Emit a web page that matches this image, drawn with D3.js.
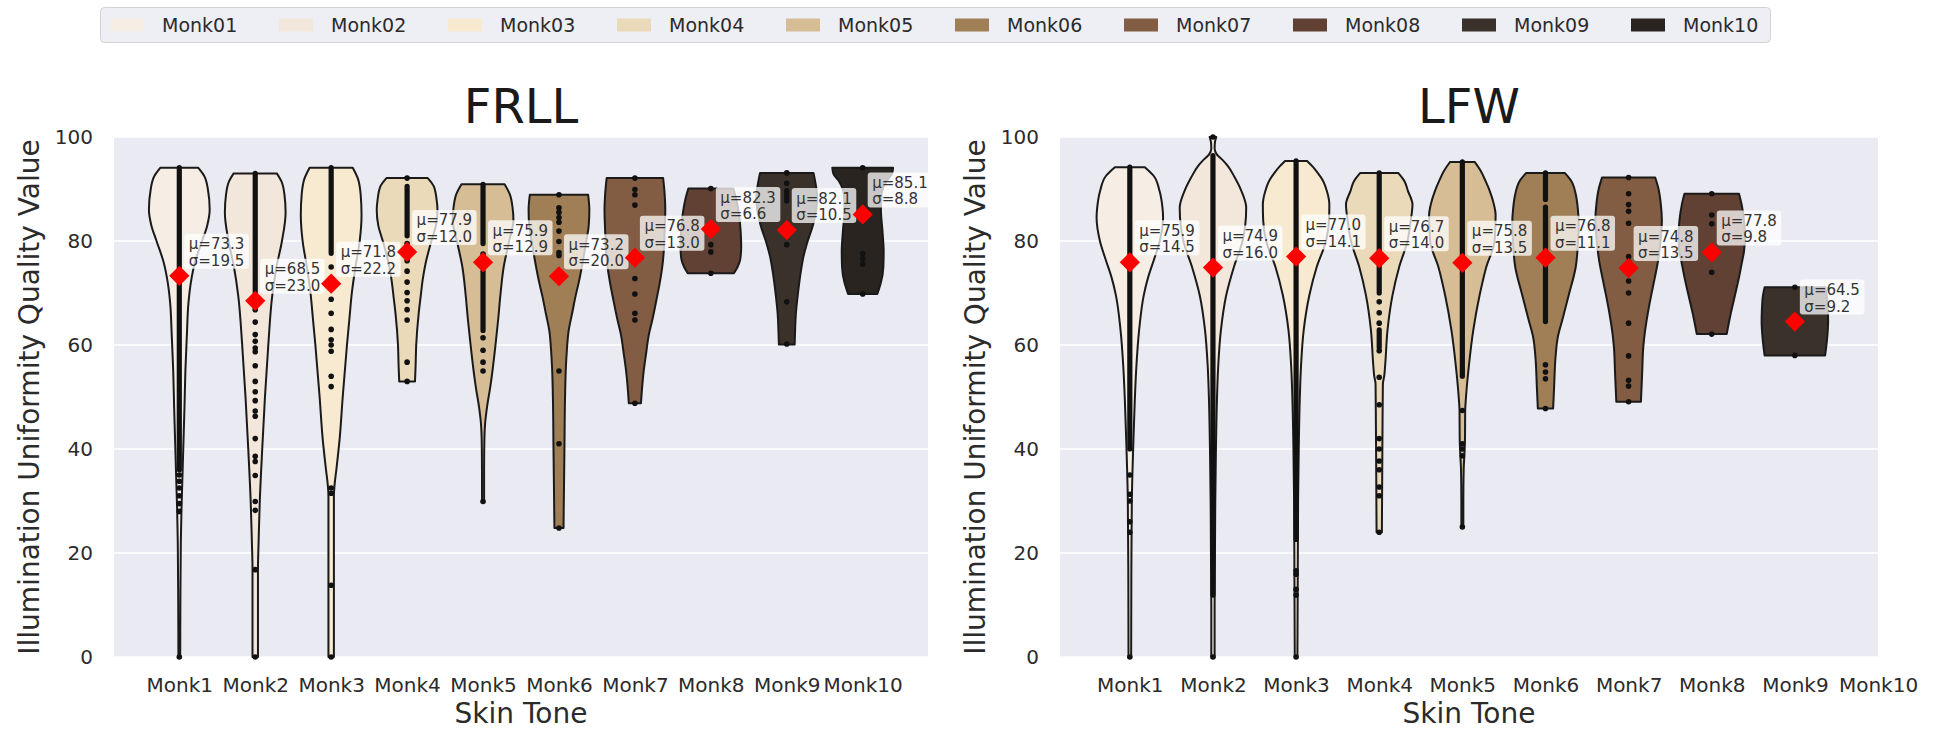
<!DOCTYPE html>
<html>
<head>
<meta charset="utf-8">
<script src="https://cdn.jsdelivr.net/npm/d3@7"></script>
<style>
  body { margin: 0; background: #ffffff; }
  svg { display: block; font-family: "DejaVu Sans", "Noto Sans", sans-serif; }
</style>
</head>
<body>
<svg id="chart" width="1939" height="730"></svg>
<script>
// ---------- data ----------
const categories = ["Monk1", "Monk2", "Monk3", "Monk4", "Monk5", "Monk6", "Monk7", "Monk8", "Monk9", "Monk10"];
const legendLabels = ["Monk01", "Monk02", "Monk03", "Monk04", "Monk05", "Monk06", "Monk07", "Monk08", "Monk09", "Monk10"];
const toneColors = ["#f6ede4", "#f3e7db", "#f7ead0", "#eadaba", "#d7bd96", "#a07e56", "#825c43", "#604134", "#3a312a", "#292420"];
const yTicks = [0, 20, 40, 60, 80, 100];

// FRLL summary statistics
const frllMean = [73.3, 68.5, 71.8, 77.9, 75.9, 73.2, 76.8, 82.3, 82.1, 85.1];
const frllStd  = [19.5, 23.0, 22.2, 12.0, 12.9, 20.0, 13.0, 6.6, 10.5, 8.8];

// LFW summary statistics (no Monk10 samples)
const lfwMean = [75.9, 74.9, 77.0, 76.7, 75.8, 76.8, 74.8, 77.8, 64.5, null];
const lfwStd  = [14.5, 16.0, 14.1, 14.0, 13.5, 11.1, 13.5, 9.8, 9.2, null];

// violin density profiles: [quality value, relative density (1 = widest)]
const frllDensity = [
  [[94.1,0.62],[92.5,0.82],[90,0.94],[86,1.0],[83,0.92],[80,0.75],[76,0.52],[72,0.38],[68,0.3],[62,0.25],[55,0.2],[48,0.17],[40,0.13],[34,0.1],[28,0.07],[22,0.05],[10,0.035],[0,0.03]],
  [[93,0.71],[91.5,0.86],[89,0.96],[85.5,1.0],[80,0.88],[75,0.7],[69.5,0.56],[60,0.43],[50,0.32],[40,0.23],[30,0.15],[22,0.11],[17,0.09],[8,0.09],[0,0.09]],
  [[94.1,0.71],[92,0.88],[89,0.97],[85,1.0],[80,0.94],[75,0.8],[70,0.68],[65,0.6],[60,0.52],[50,0.38],[42,0.28],[36,0.17],[33,0.11],[31,0.09],[0,0.09]],
  [[92.1,0.68],[90.5,0.88],[88,0.97],[86,1.0],[83,0.95],[80,0.8],[76,0.62],[72.8,0.52],[69,0.44],[66,0.38],[60,0.3],[56,0.28],[53,0.26]],
  [[90.9,0.71],[89,0.88],[86.5,0.97],[84,1.0],[80,0.86],[75,0.68],[69.5,0.57],[65,0.5],[60,0.41],[55,0.31],[52,0.24],[48,0.13],[45,0.07],[42,0.045],[36,0.035],[29.9,0.035]],
  [[88.9,0.96],[86,1.0],[83,0.98],[80,0.9],[76.2,0.79],[72,0.65],[69.5,0.55],[66,0.43],[62.8,0.32],[59,0.26],[56,0.23],[50,0.2],[40,0.18],[30,0.16],[24.8,0.15]],
  [[92.1,0.93],[89,0.98],[86,1.0],[82,0.98],[78,0.95],[75,0.9],[72,0.82],[69,0.72],[65,0.58],[62,0.46],[58,0.36],[55,0.29],[52,0.24],[48.8,0.2]],
  [[90.1,0.74],[88,0.84],[85,0.93],[82,0.98],[79,1.0],[76.5,0.97],[75,0.88],[73.8,0.76]],
  [[93.1,0.88],[91,0.95],[88.5,1.0],[86,0.97],[83,0.86],[80,0.69],[77,0.55],[74,0.46],[70,0.37],[66,0.3],[62,0.27],[60.1,0.26]],
  [[94.1,1.0],[93,0.97],[91.5,0.78],[89,0.62],[86,0.6],[82,0.65],[78,0.69],[75,0.68],[72,0.6],[70.5,0.52],[69.8,0.48]]
];
const lfwDensity = [
  [[94.2,0.45],[92.5,0.72],[89.7,0.89],[86.5,0.98],[84.5,1.0],[80,0.9],[76.3,0.72],[73,0.55],[69.6,0.42],[62.9,0.28],[56.2,0.2],[49.5,0.15],[40,0.1],[30,0.06],[15,0.045],[0,0.04]],
  [[100,0.1],[99,0.06],[97.8,0.05],[96.6,0.12],[95.5,0.3],[94.4,0.45],[92.4,0.64],[89.7,0.85],[86.4,1.0],[83,0.97],[80,0.89],[75,0.63],[69.6,0.4],[62.9,0.24],[56.2,0.16],[49.5,0.12],[40,0.09],[30,0.07],[20,0.06],[10,0.05],[0,0.05]],
  [[95.4,0.33],[94.3,0.5],[93.1,0.65],[91.7,0.8],[89.5,0.93],[87,1.0],[84,0.99],[80,0.9],[75,0.62],[69.6,0.4],[62.9,0.23],[56.2,0.15],[49.5,0.11],[40,0.08],[30,0.06],[15,0.05],[0,0.04]],
  [[93.1,0.57],[91.5,0.76],[89.7,0.86],[87,1.0],[84,0.95],[80,0.85],[75,0.6],[69.6,0.4],[62.9,0.25],[56.2,0.18],[54,0.15],[52.5,0.11],[45,0.1],[35,0.09],[24,0.08]],
  [[95.2,0.37],[93.5,0.55],[91.5,0.7],[89.7,0.82],[87,0.95],[85,1.0],[80,0.97],[75,0.72],[69.6,0.52],[62.9,0.33],[56.2,0.2],[50,0.11],[47.4,0.085],[42,0.08],[38.7,0.06],[36,0.04],[30,0.03],[25,0.03]],
  [[93.1,0.58],[91.5,0.78],[89,0.91],[86.4,0.97],[83,1.0],[80,0.98],[75,0.91],[69.6,0.7],[64.9,0.51],[61.5,0.37],[57.5,0.3],[52,0.26],[47.8,0.23]],
  [[92.2,0.8],[90,0.9],[87,0.97],[84,1.0],[80,0.96],[76,0.88],[73,0.79],[69.6,0.68],[66.2,0.58],[62,0.48],[59.5,0.44],[55,0.41],[52,0.39],[49.1,0.37]],
  [[89.1,0.82],[87,0.9],[84,0.97],[81,1.0],[78,0.97],[76.3,0.92],[73,0.82],[69.6,0.7],[66,0.57],[62.1,0.45]],
  [[71.1,0.91],[69.5,0.96],[67,0.99],[64.6,1.0],[62,0.98],[60,0.95],[58,0.91]],
  null
];

// observations: runs of overlapping samples [low, high] and isolated samples
const frllDense = [
  [[36, 94.1]], [[68, 93]], [[77.6, 94.1]], [[81, 90.5]], [[79.5, 90.9], [62.8, 74.2]],
  [], [], [], [[87.7, 89.7]], []
];
const frllPoints = [
  [35, 33.8, 32.5, 31, 29.5, 28, 0],
  [66.8, 64.4, 62, 60.7, 59.4, 58.7, 56, 53, 51, 49.3, 47.3, 46.3, 42, 38.6, 37.6, 34.9, 29.9, 28.2, 16.8, 0],
  [75, 72, 68.8, 66.1, 63, 61, 60, 58.8, 54, 52, 32.5, 31.5, 13.8, 0],
  [92.1, 79.5, 77.9, 76.2, 74.2, 72.1, 70.1, 68.5, 66.8, 64.8, 56.7, 53],
  [77.5, 75.9, 61.4, 59, 56.7, 55, 29.9],
  [88.9, 86.4, 85.5, 84.5, 83.6, 81.9, 79.9, 77.8, 77.2, 55, 41, 24.8],
  [92.1, 89.9, 88.9, 86.9, 72.8, 69.8, 66.1, 64.8, 48.8],
  [90.1, 82.5, 79.3, 77.9, 73.8],
  [93.1, 91.1, 82, 79.3, 68.3, 60.2],
  [94.1, 77.6, 76.6, 75.6, 69.8]
];
const lfwDense = [
  [[40, 94.2]], [[11.9, 96.4]], [[22.6, 95.4]], [[70, 93.1], [59.5, 62.9]], [[54, 95.2]],
  [[88, 93.1], [64.5, 86.5]], [], [], [], []
];
const lfwPoints = [
  [35, 31.3, 30, 26, 24, 0],
  [100, 0],
  [16.6, 15.9, 13, 11.9, 0],
  [68.3, 66.2, 64.2, 58.9, 53.8, 48.5, 42, 40, 37.7, 36, 32.7, 31, 24],
  [47.4, 41, 40, 38.7, 25],
  [56.2, 54.8, 53.5, 47.8],
  [92.2, 89.1, 87, 85.7, 83.4, 77, 76, 75, 72.3, 70, 64.2, 57.9, 53.2, 52.1, 49.1],
  [89.1, 85, 83.3, 74, 62.1],
  [71.1, 58],
  []
];

// ---------- drawing ----------
const svg = d3.select("#chart");
const textColor = "#2b2b2b";
const plotTop = 137, plotBottom = 657;
const violinHalf = 0.4; // half of the violin width, in category units

const panels = [
  { title: "FRLL", left: 114, right: 928, xDomain: [-0.86, 9.86],
    mean: frllMean, std: frllStd, density: frllDensity, dense: frllDense, points: frllPoints },
  { title: "LFW", left: 1060, right: 1878, xDomain: [-0.84, 9],
    mean: lfwMean, std: lfwStd, density: lfwDensity, dense: lfwDense, points: lfwPoints }
];

panels.forEach(p => {
  const g = svg.append("g");
  const x = d3.scaleLinear().domain(p.xDomain).range([p.left, p.right]);
  const y = d3.scaleLinear().domain([0, 100]).range([plotBottom, plotTop]);

  g.append("rect").attr("x", p.left).attr("y", plotTop)
    .attr("width", p.right - p.left).attr("height", plotBottom - plotTop)
    .attr("fill", "#eaeaf2");

  // horizontal grid
  g.selectAll("line.grid").data(yTicks).join("line")
    .attr("x1", p.left).attr("x2", p.right)
    .attr("y1", d => y(d)).attr("y2", d => y(d))
    .attr("stroke", "#ffffff").attr("stroke-width", 1.3);

  // y axis
  const yAxis = d3.axisLeft(y).tickValues(yTicks).tickSize(0).tickPadding(21);
  const ya = g.append("g").attr("transform", `translate(${p.left},0)`).call(yAxis);
  ya.select(".domain").remove();
  ya.selectAll("text").attr("font-size", 20).attr("fill", textColor)
    .attr("font-family", "DejaVu Sans");

  // x axis
  const xAxis = d3.axisBottom(x).tickValues(d3.range(categories.length))
    .tickFormat(i => categories[i]).tickSize(0).tickPadding(0);
  const xa = g.append("g").attr("transform", `translate(0,${plotBottom})`).call(xAxis);
  xa.select(".domain").remove();
  xa.selectAll("text").attr("font-size", 20).attr("fill", textColor)
    .attr("font-family", "DejaVu Sans").attr("dy", null).attr("y", 35);

  // violins
  p.density.forEach((prof, i) => {
    if (!prof) return;
    const area = d3.area()
      .y(d => y(d[0]))
      .x0(d => x(i - violinHalf * d[1]))
      .x1(d => x(i + violinHalf * d[1]))
      .curve(d3.curveMonotoneY);
    g.append("path").attr("d", area(prof))
      .attr("fill", toneColors[i])
      .attr("stroke", "#1a1a1a").attr("stroke-width", 2)
      .attr("stroke-linejoin", "round");
  });

  // observations
  p.dense.forEach((runs, i) => {
    runs.forEach(r => {
      g.append("line").attr("x1", x(i)).attr("x2", x(i))
        .attr("y1", y(r[0])).attr("y2", y(r[1]))
        .attr("stroke", "#111").attr("stroke-width", 5.2).attr("stroke-linecap", "round");
    });
  });
  p.points.forEach((vals, i) => {
    g.selectAll(null).data(vals).join("circle")
      .attr("cx", x(i)).attr("cy", d => y(d)).attr("r", 2.8).attr("fill", "#111");
  });

  // mean / std annotations
  p.mean.forEach((m, i) => {
    if (m == null) return;
    const cx = x(i), cy = y(m);
    const lab = g.append("g");
    const box = lab.append("rect");
    const t = lab.append("text").attr("font-size", 15).attr("fill", "#333")
      .attr("font-family", "DejaVu Sans");
    const l1 = t.append("tspan").attr("x", cx + 9.5).attr("y", cy - 26.5).text("μ=" + m.toFixed(1));
    const l2 = t.append("tspan").attr("x", cx + 9.5).attr("y", cy - 10).text("σ=" + p.std[i].toFixed(1));
    const w = Math.max(l1.node().getComputedTextLength(), l2.node().getComputedTextLength());
    box.attr("x", cx + 5).attr("y", cy - 42).attr("width", w + 9).attr("height", 35)
      .attr("rx", 3).attr("fill", "#ffffff").attr("fill-opacity", 0.75);
  });

  // mean markers
  p.mean.forEach((m, i) => {
    if (m == null) return;
    g.append("path").attr("d", d3.symbol(d3.symbolSquare, 205)())
      .attr("transform", `translate(${x(i)},${y(m)}) rotate(45)`)
      .attr("fill", "#ff0000");
  });

  // titles and axis labels
  const cxPanel = (p.left + p.right) / 2;
  g.append("text").attr("x", cxPanel).attr("y", 123).attr("text-anchor", "middle")
    .attr("font-size", 48).attr("fill", "#1a1a1a").text(p.title);
  g.append("text").attr("x", cxPanel).attr("y", 723).attr("text-anchor", "middle")
    .attr("font-size", 28).attr("fill", textColor).text("Skin Tone");
  g.append("text")
    .attr("transform", `translate(${p.left - 75},${(plotTop + plotBottom) / 2}) rotate(-90)`)
    .attr("text-anchor", "middle").attr("font-size", 28).attr("fill", textColor)
    .text("Illumination Uniformity Quality Value");
});

// ---------- legend ----------
const legend = svg.append("g");
legend.append("rect").attr("x", 100.5).attr("y", 7.5).attr("width", 1670).attr("height", 35)
  .attr("rx", 4).attr("fill", "#eeeef5").attr("stroke", "#d2d2d6").attr("stroke-width", 1);
legendLabels.forEach((lab, i) => {
  const lx = 110 + i * 169;
  legend.append("rect").attr("x", lx).attr("y", 18.5).attr("width", 34).attr("height", 13)
    .attr("fill", toneColors[i]);
  legend.append("text").attr("x", lx + 52).attr("y", 31.5).attr("font-size", 19)
    .attr("fill", textColor).text(lab);
});
</script>
</body>
</html>
